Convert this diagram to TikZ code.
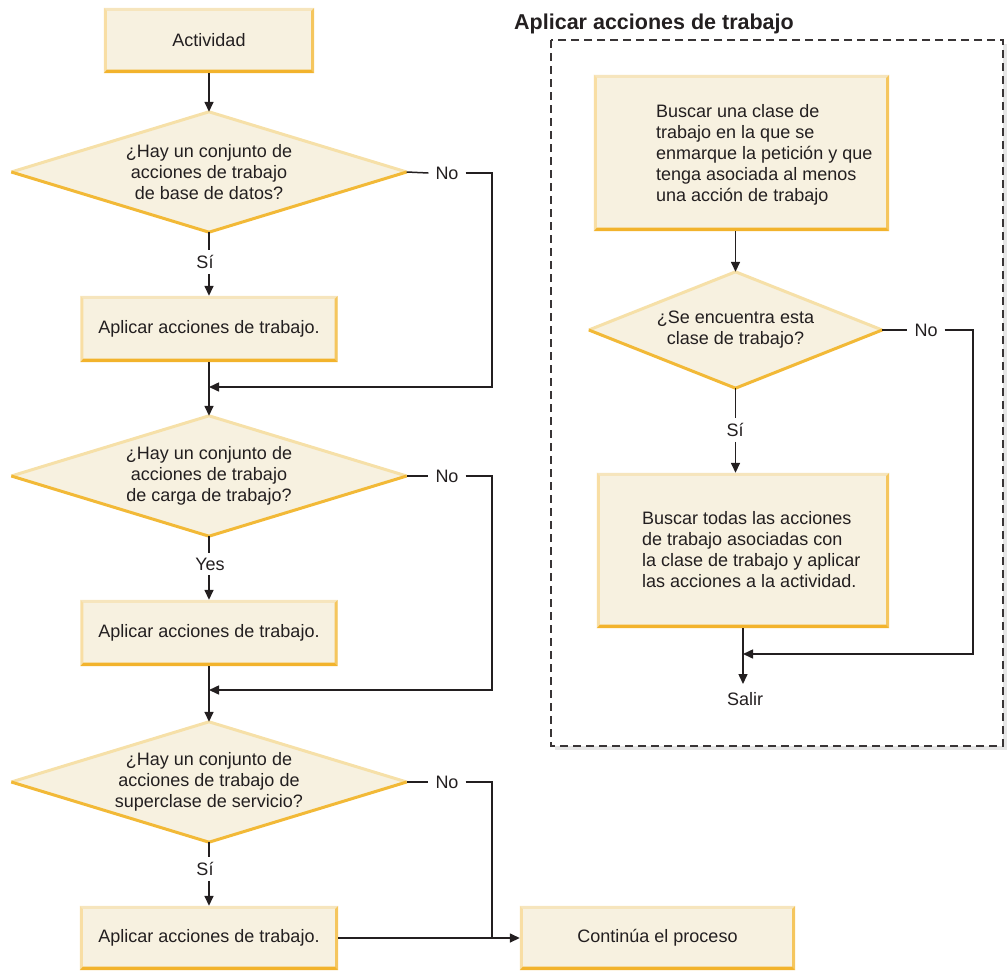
\documentclass[tikz,border=0pt]{standalone}
\usepackage{fontspec}
\setmainfont{Liberation Sans}
\usetikzlibrary{shapes.geometric,arrows.meta,calc}
\definecolor{boxfill}{HTML}{F7F1E0}
\definecolor{bvtop}{HTML}{F6E5BD}
\definecolor{bvleft}{HTML}{F8DEA4}
\definecolor{bvright}{HTML}{F5C65E}
\definecolor{bvbot}{HTML}{F2B32C}
\definecolor{dtop}{HTML}{F6E0A8}
\definecolor{dbot}{HTML}{F2B937}
\definecolor{ink}{HTML}{231F20}
\definecolor{shadowc}{HTML}{E6E6E6}
\newcommand\bevelbox[1]{%
\fill[bvtop] (#1.north west) -- (#1.north east) -- ([shift={(-3,3)}]#1.north east) -- ([shift={(3,3)}]#1.north west) -- cycle;
\fill[bvleft] (#1.north west) -- ([shift={(3,3)}]#1.north west) -- ([shift={(3,-3.5)}]#1.south west) -- (#1.south west) -- cycle;
\fill[bvright] (#1.north east) -- (#1.south east) -- ([shift={(-3,-3.5)}]#1.south east) -- ([shift={(-3,3)}]#1.north east) -- cycle;
\fill[bvbot] (#1.south west) -- (#1.south east) -- ([shift={(-3,-3.5)}]#1.south east) -- ([shift={(3,-3.5)}]#1.south west) -- cycle;}
\newcommand\beveldiam[1]{%
\draw[dtop, line width=3pt] (#1.west) -- (#1.north) -- (#1.east);
\draw[dbot, line width=3pt] (#1.west) -- (#1.south) -- (#1.east);}
\begin{document}
\begin{tikzpicture}[x=1pt,y=-1pt,
 every node/.style={font=\fontsize{18}{21}\selectfont, text=ink},
 box/.style={rectangle, fill=boxfill, inner sep=0pt},
 dec/.style={diamond, fill=boxfill, inner sep=0pt, aspect=3.3, align=center},
 txt/.style={align=left, inner sep=0pt},
 lbl/.style={inner xsep=7pt, inner ysep=5pt},
 conn/.style={draw=ink, line width=1.5pt},
 arr/.style={conn, -{Triangle[length=10pt,width=9pt]}},
 ttl/.style={font=\fontsize{21.5}{25}\selectfont\bfseries, inner sep=0pt}
]
\useasboundingbox (0,0) rectangle (1007,972);
% dashed group
\fill[shadowc] (555,44) rectangle (1007,750);
\fill[white] (551,40) rectangle (1003,746);
\draw[ink!90, line width=1.5pt, dash pattern=on 8pt off 5pt] (551,40) rectangle (1003,746);
\node[ttl, anchor=base west] (title) at (514,29) {Aplicar acciones de trabajo};

% left column
\node[box, minimum width=210, minimum height=65] (act) at (209,40.5) {Actividad};
\node[dec, minimum width=395, minimum height=120] (d1) at (209,172) {¿Hay un conjunto de\\acciones de trabajo\\de base de datos?};
\node[lbl] (no1) at (447,173) {No};
\node[lbl] (si1) at (205,262) {Sí};
\node[box, minimum width=257, minimum height=66] (b2) at (209,329) {Aplicar acciones de trabajo.};
\coordinate (j1) at (209,387);
\coordinate (k1) at (492,387);
\node[dec, minimum width=395, minimum height=120] (d2) at (209,476) {¿Hay un conjunto de\\acciones de trabajo\\de carga de trabajo?};
\node[lbl] (no2) at (447,476) {No};
\node[lbl] (yes2) at (210,564) {Yes};
\node[box, minimum width=257, minimum height=66] (b3) at (209,633) {Aplicar acciones de trabajo.};
\coordinate (j2) at (209,690);
\coordinate (k2) at (492,690);
\node[dec, minimum width=395, minimum height=120] (d3) at (209,782) {¿Hay un conjunto de\\acciones de trabajo de\\superclase de servicio?};
\node[lbl] (no3) at (447,782) {No};
\node[lbl] (si3) at (205,869) {Sí};
\node[box, minimum width=258, minimum height=64] (b4) at (209,938) {Aplicar acciones de trabajo.};
\node[box, minimum width=275, minimum height=64] (cont) at (657.5,938) {Continúa el proceso};
\coordinate (k3) at (492,938);

% right group
\node[box, minimum width=295, minimum height=156] (r1) at (741.5,153) {};
\node[txt, anchor=west] (r1t) at (656,155) {Buscar una clase de\\trabajo en la que se\\enmarque la petición y que\\tenga asociada al menos\\una acción de trabajo};
\node[dec, minimum width=293, minimum height=116] (d4) at (735.5,330) {¿Se encuentra esta\\clase de trabajo?};
\node[lbl] (no4) at (926,330) {No};
\node[lbl] (si4) at (735,430) {Sí};
\node[box, minimum width=292, minimum height=155] (r2) at (743,550.5) {};
\node[txt, anchor=west] (r2t) at (642,550) {Buscar todas las acciones\\de trabajo asociadas con\\la clase de trabajo y aplicar\\las acciones a la actividad.};
\node[inner xsep=3pt, inner ysep=8pt, anchor=north] (salir) at (745,684) {Salir};
\coordinate (k4) at (973,654);
\coordinate (j4) at (743,654);

% bevels
\foreach \n in {act,b2,b3,b4,cont,r1,r2} {\bevelbox{\n}}
\foreach \n in {d1,d2,d3,d4} {\beveldiam{\n}}

% connectors
\draw[arr] (act.south) -- (d1.north);
\draw[conn] (d1.south) -- (d1.south |- si1.north);
\draw[arr] (d1.south |- si1.south) -- (b2.north);
\draw[conn] (d1.east) -- (no1.west);
\draw[arr] (no1.east) -| (k1) -- (j1);
\draw[arr] (b2.south) -- (d2.north);
\draw[conn] (d2.south) -- (yes2.north -| d2.south);
\draw[arr] (yes2.south -| d2.south) -- (b3.north);
\draw[conn] (d2.east) -- (no2.west);
\draw[arr] (no2.east) -| (k2) -- (j2);
\draw[arr] (b3.south) -- (d3.north);
\draw[conn] (d3.south) -- (d3.south |- si3.north);
\draw[arr] (d3.south |- si3.south) -- (b4.north);
\draw[conn] (d3.east) -- (no3.west);
\draw[conn] (no3.east) -| (k3);
\draw[arr] (b4.east) -- (cont.west);

\draw[arr] (d4.north |- r1.south) -- (d4.north);
\draw[conn] (d4.south) -- (d4.south |- si4.north);
\draw[arr] (d4.south |- si4.south) -- (d4.south |- r2.north);
\draw[conn] (d4.east) -- (no4.west);
\draw[arr] (no4.east) -| (k4) -- (j4);
\draw[arr] (j4 |- r2.south) -- (j4 |- salir.north);
\end{tikzpicture}
\end{document}
